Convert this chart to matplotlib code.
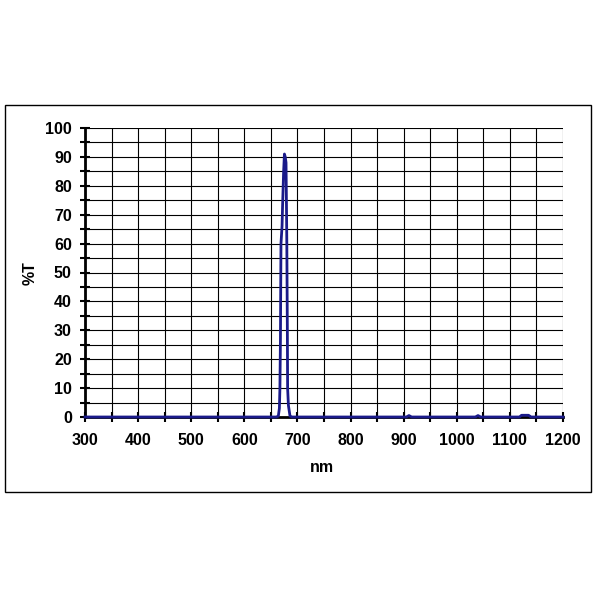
import numpy as np
import matplotlib.pyplot as plt
from matplotlib.patches import Rectangle
from matplotlib.ticker import MultipleLocator

plt.rcParams['font.family'] = ['Liberation Sans', 'DejaVu Sans']
plt.rcParams['font.weight'] = 'bold'

# Transmission curve (wavelength in nm, %T)
wavelength = [300, 400, 500, 600, 650, 660, 664, 666, 667, 668, 668.5, 669,
              671, 672, 674, 675.5, 677, 678.5, 679.5, 680, 681, 681.5, 683,
              686, 690, 700, 800, 900, 905, 910, 915, 1000, 1035, 1040, 1045,
              1100, 1118, 1122, 1135, 1140, 1200]
transmission = [0, 0, 0, 0, 0, 0, 0.3, 3, 10, 27, 45, 60,
                66, 73, 85, 91, 90, 88, 70, 60, 30, 10, 4,
                0.3, 0, 0, 0, 0, 0, 0.5, 0, 0, 0, 0.5, 0,
                0, 0, 0.6, 0.6, 0, 0]

x_ticks = [300, 400, 500, 600, 700, 800, 900, 1000, 1100, 1200]
y_ticks = [0, 10, 20, 30, 40, 50, 60, 70, 80, 90, 100]

fig = plt.figure(figsize=(5.97, 5.97), dpi=100)
W = 597.0

# outer chart frame
fig.patches.append(Rectangle((5 / W, (597 - 492) / W), 586 / W, 387 / W,
                             transform=fig.transFigure, fill=False,
                             edgecolor='black', linewidth=1))

ax = fig.add_axes([85 / W, (597 - 417) / W, 478 / W, 289 / W])
ax.plot(wavelength, transmission, color='#1a1a8a', linewidth=2, zorder=5,
        clip_on=False)

ax.set_xlim(300, 1200)
ax.set_ylim(0, 100)
ax.set_xticks(x_ticks)
ax.set_yticks(y_ticks)
ax.xaxis.set_minor_locator(MultipleLocator(50))
ax.yaxis.set_minor_locator(MultipleLocator(5))

ax.grid(which='both', color='black', linewidth=0.8)
ax.set_axisbelow(True)

for side in ['top', 'right']:
    ax.spines[side].set_visible(False)
ax.spines['left'].set_linewidth(2)
ax.spines['bottom'].set_linewidth(2)

ax.tick_params(which='both', direction='inout', length=7, width=1.5,
               labelsize=11.5, pad=6)
ax.tick_params(axis='x', pad=8)

# axis titles placed where the reference has them
fig.text(322 / W, 1 - 468 / W, "nm", fontsize=11.5, fontweight='bold',
         ha='center', va='center')
fig.text(30 / W, 1 - 273 / W, "%T", fontsize=11.5, fontweight='bold',
         ha='center', va='center', rotation=90)

plt.savefig("out.png", dpi=100)
